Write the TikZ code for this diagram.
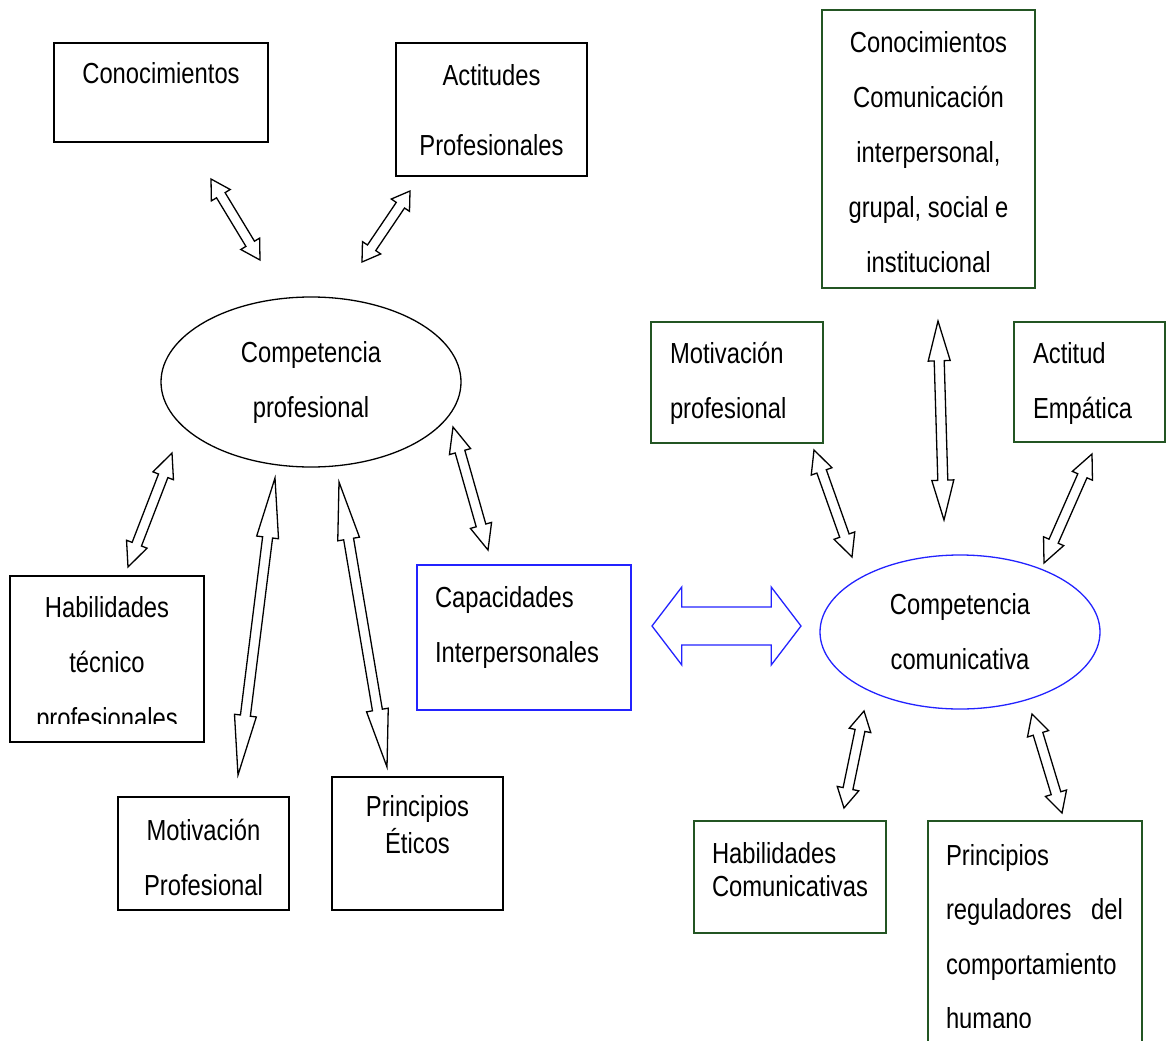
\documentclass[tikz,border=0pt]{standalone}
\usepackage{fontspec}
\setmainfont{Liberation Sans}[FakeStretch=0.82]
\usetikzlibrary{calc,shapes.geometric}
\definecolor{dgreen}{RGB}{35,85,35}
\definecolor{bblue}{RGB}{35,35,255}
\newcommand\bx[6]{\parbox[c][#2pt][t]{#1pt}{\fontsize{29}{#4pt}\selectfont #5\rule{0pt}{#3pt}#6}}
\newcommand\dbl[5][]{\draw[arr,#1] (#2) -- ($(#2)!0.2!(#3)!#4!90:(#3)$) -- ($(#2)!0.2!(#3)!#5!90:(#3)$) -- ($(#3)!0.2!(#2)!#5!-90:(#2)$) -- ($(#3)!0.2!(#2)!#4!-90:(#2)$) -- (#3) -- ($(#3)!0.2!(#2)!#4!90:(#2)$) -- ($(#3)!0.2!(#2)!#5!90:(#2)$) -- ($(#2)!0.2!(#3)!#5!-90:(#3)$) -- ($(#2)!0.2!(#3)!#4!-90:(#3)$) -- cycle;}
\begin{document}
\begin{tikzpicture}[x=1pt,y=-1pt,
  bbox/.style={draw=black, line width=1.3pt, inner sep=0pt, outer sep=0pt, anchor=north west},
  gbox/.style={bbox, draw=dgreen},
  blbox/.style={bbox, draw=bblue},
  ell/.style={ellipse, draw, line width=1.3pt, inner sep=0pt, align=center, font=\fontsize{29}{55}\selectfont},
  arr/.style={draw=black, fill=white, line width=1.3pt, line join=miter}]
\useasboundingbox (0,0) rectangle (1167,1041);
% left side
\node[ell, minimum width=300pt, minimum height=170pt] (cp) at (311,382) {Competencia\\profesional};
\node[bbox] (conoc) at (54,43) {\bx{214}{99}{40}{55}{\centering}{Conocimientos}};
\node[bbox] (actit) at (396,43) {\bx{191}{133}{42}{70}{\centering}{Actitudes\\Profesionales}};
\node[bbox] (habil) at (10,576) {\bx{194}{166}{41}{55.5}{\centering}{Habilidades\\técnico\\profesionales}};
\fill[white] (11.5,724) rectangle (202.5,740.5);
\node[bbox] (motiv) at (118,797) {\bx{171}{113}{43}{55}{\centering}{Motivación\\Profesional}};
\node[bbox] (princ) at (332,777) {\bx{171}{133}{39}{37}{\centering}{Principios\\Éticos}};
\node[blbox] (capac) at (417,565) {\bx{214}{145}{42}{55}{\raggedright\leftskip=18pt}{Capacidades\\Interpersonales}};
% right side
\node[ell, draw=bblue, minimum width=280pt, minimum height=154pt] (cc) at (960,632) {Competencia\\comunicativa};
\node[gbox] (conoc2) at (822,10) {\bx{213}{278}{42}{55}{\centering}{Conocimientos\\Comunicación\\interpersonal,\\grupal, social e\\institucional}};
\node[gbox] (motiv2) at (651,322) {\bx{172}{121}{41}{55}{\raggedright\leftskip=19pt}{Motivación\\profesional}};
\node[gbox] (actit2) at (1014,322) {\bx{151}{120}{41}{55}{\raggedright\leftskip=19pt}{Actitud\\Empática}};
\node[gbox] (habil2) at (694,821) {\bx{192}{112}{42}{33}{\raggedright\leftskip=18pt}{Habilidades\\Comunicativas}};
\node[gbox] (princ2) at (928,821) {\bx{214}{240}{44}{54.5}{\raggedright\leftskip=18pt}{Principios\\\makebox[177pt][s]{reguladores del}\\comportamiento\\humano}};
\fill[white] (929.5,1028) rectangle (1140.5,1041);
% arrow end points
\coordinate (a1s) at (211,179);  \coordinate (a1e) at (260,260);
\coordinate (a2s) at (410,191);  \coordinate (a2e) at (362,262);
\coordinate (a3s) at (172,453);  \coordinate (a3e) at (128,567);
\coordinate (a4s) at (275,478);  \coordinate (a4e) at (238,775);
\coordinate (a5s) at (339,482);  \coordinate (a5e) at (387,767);
\coordinate (a6s) at (453,427);  \coordinate (a6e) at (488,550);
\coordinate (a7s) at (652,626);  \coordinate (a7e) at (801,626);
\coordinate (a8s) at (814,450);  \coordinate (a8e) at (852,557);
\coordinate (a9s) at (938,321);  \coordinate (a9e) at (944,520);
\coordinate (a10s) at (1092,454); \coordinate (a10e) at (1044,563);
\coordinate (a11s) at (864,711); \coordinate (a11e) at (844,808);
\coordinate (a12s) at (1032,714); \coordinate (a12e) at (1062,813);
\dbl{a1s}{a1e}{11pt}{5pt}
\dbl{a2s}{a2e}{11pt}{5pt}
\dbl{a3s}{a3e}{11pt}{5pt}
\dbl{a4s}{a4e}{11pt}{5pt}
\dbl{a5s}{a5e}{11pt}{5pt}
\dbl{a6s}{a6e}{11pt}{5pt}
\dbl[draw=bblue]{a7s}{a7e}{39pt}{19pt}
\dbl{a8s}{a8e}{11pt}{5pt}
\dbl{a9s}{a9e}{11pt}{5pt}
\dbl{a10s}{a10e}{11pt}{5pt}
\dbl{a11s}{a11e}{11pt}{5pt}
\dbl{a12s}{a12e}{11pt}{5pt}
\end{tikzpicture}
\end{document}
